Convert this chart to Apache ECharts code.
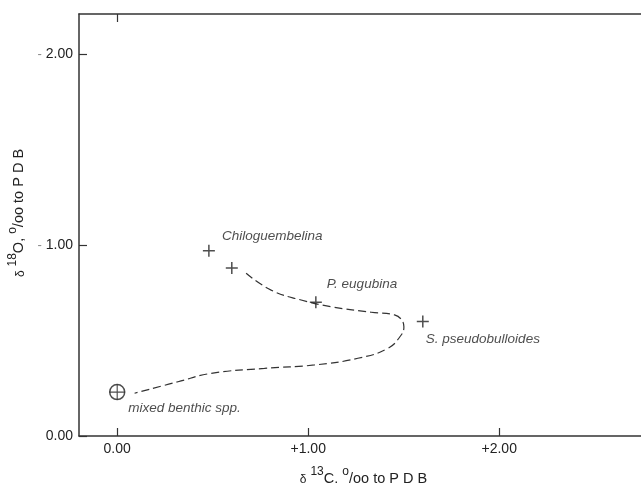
<!DOCTYPE html>
<html>
<head>
<meta charset="utf-8">
<script src="https://cdn.jsdelivr.net/npm/echarts@6/dist/echarts.min.js"></script>
<style>
html,body{margin:0;padding:0;background:#fff;}
#chart{width:641px;height:483px;}
</style>
</head>
<body>
<div id="chart"></div>
<script>
// Planktonic species (δ13C, δ18O)
const speciesNames = ['Chiloguembelina', '', 'P. eugubina', 'S. pseudobulloides'];
const speciesC = [0.48, 0.60, 1.04, 1.60];
const speciesO = [-0.97, -0.88, -0.70, -0.60];
// Benthic point
const benthicNames = ['mixed benthic spp.'];
const benthicC = [0.00];
const benthicO = [-0.23];
// Dashed trend curve
const trendC = [0.675, 0.806, 0.963, 1.12, 1.33, 1.452, 1.501, 1.487, 1.417, 1.26, 1.033, 0.771, 0.492, 0.318, 0.091];
const trendO = [-0.852, -0.764, -0.712, -0.677, -0.648, -0.634, -0.572, -0.529, -0.459, -0.407, -0.372, -0.354, -0.328, -0.284, -0.224];
// Ticks
const xTicks = [0, 1, 2];
const yTicks = [-2, -1, 0];

// label offsets (styling, px from point)
const speciesLabelOffsets = [[13, -15], [0, 0], [11, -18], [3, 18]];
const benthicLabelOffsets = [[11, 16]];

const ink = '#222';
const plusPath = 'path://M7,0 H9 V7 H16 V9 H9 V16 H7 V9 H0 V7 H7 Z';
const FF = 'Liberation Sans, Arial, sans-serif';
const labelFont = {fontFamily: FF, fontStyle: 'italic', fontSize: 13.5, color: ink};

const chart = echarts.init(document.getElementById('chart'), null, {renderer: 'canvas'});

const speciesData = speciesC.map((c, i) => ({
  value: [c, speciesO[i]],
  name: speciesNames[i],
  label: {offset: speciesLabelOffsets[i]}
}));
const benthicData = benthicC.map((c, i) => ({
  value: [c, benthicO[i]],
  name: benthicNames[i],
  label: {offset: benthicLabelOffsets[i]}
}));
const trendData = trendC.map((c, i) => [c, trendO[i]]);

const axisFont = {fontFamily: FF, fontSize: 14, color: ink};
const nameRich = {
  d: {fontSize: 12, color: ink, fontFamily: FF, verticalAlign: 'bottom', lineHeight: 20},
  s: {fontSize: 12, color: ink, fontFamily: FF, verticalAlign: 'top', lineHeight: 20},
  n: {fontSize: 14.5, color: ink, fontFamily: FF, verticalAlign: 'bottom', lineHeight: 20}
};

const option = {
  animation: false,
  backgroundColor: '#fff',
  grid: {left: 79, top: 14, bottom: 47, right: -11, containLabel: false, outerBoundsMode: 'none'},
  xAxis: [{
    type: 'value', min: -0.2, max: 2.8, position: 'bottom',
    splitLine: {show: false},
    axisLine: {show: true, onZero: false, lineStyle: {color: '#333', width: 1.5}},
    axisTick: {show: true, inside: true, length: 8, customValues: xTicks, lineStyle: {color: '#333', width: 1.2}},
    axisLabel: {
      customValues: xTicks, margin: 6,
      formatter: v => (v > 0 ? '+' : '') + v.toFixed(2),
      ...axisFont
    },
    name: '{d|δ} {s|13}{n|C, }{s|o}{n|/oo to P D B}',
    nameLocation: 'middle', nameGap: 30,
    nameTextStyle: {...axisFont, rich: nameRich, padding: [0, 4, 0, 0]}
  }, {
    type: 'value', min: -0.2, max: 2.8, position: 'top',
    splitLine: {show: false},
    axisLine: {show: true, onZero: false, lineStyle: {color: '#333', width: 1.5}},
    axisTick: {show: true, inside: true, length: 8, customValues: [0], lineStyle: {color: '#333', width: 1.2}},
    axisLabel: {show: false}
  }],
  yAxis: [{
    type: 'value', min: -2.21, max: 0, inverse: true, position: 'left',
    splitLine: {show: false},
    axisLine: {show: true, onZero: false, lineStyle: {color: '#333', width: 1.5}},
    axisTick: {show: true, inside: true, length: 8, customValues: yTicks, lineStyle: {color: '#333', width: 1.2}},
    axisLabel: {
      customValues: yTicks, margin: 6,
      formatter: v => v < 0 ? '{m|-} ' + Math.abs(v).toFixed(2) : v.toFixed(2),
      ...axisFont,
      rich: {m: {fontSize: 13, color: '#888', fontFamily: FF}}
    },
    name: '{d|δ} {s|18}{n|O, }{s|o}{n|/oo to P D B}',
    nameLocation: 'middle', nameGap: 47,
    nameTextStyle: {...axisFont, rich: nameRich, padding: [0, 0, 0, 24]}
  }],
  series: [{
    type: 'line',
    data: trendData,
    smooth: 0.45,
    symbol: 'none',
    lineStyle: {color: '#333', width: 1.2, type: [8, 4]},
    z: 1
  }, {
    type: 'scatter',
    data: speciesData,
    symbol: plusPath,
    symbolSize: 12,
    itemStyle: {color: '#222'},
    label: {
      show: true, position: 'inside', align: 'left', verticalAlign: 'middle',
      formatter: p => p.name,
      ...labelFont
    },
    z: 3
  }, {
    type: 'scatter',
    data: benthicData.map(d => ({value: d.value})),
    symbol: 'circle',
    symbolSize: 15,
    itemStyle: {color: '#fff', borderColor: '#222', borderWidth: 1.5},
    z: 3
  }, {
    type: 'scatter',
    data: benthicData,
    symbol: 'path://M7.4,0 H8.6 V7.4 H16 V8.6 H8.6 V16 H7.4 V8.6 H0 V7.4 H7.4 Z',
    symbolSize: 15,
    itemStyle: {color: '#222'},
    label: {
      show: true, position: 'inside', align: 'left', verticalAlign: 'middle',
      formatter: p => p.name,
      ...labelFont
    },
    z: 4
  }]
};
chart.setOption(option);
</script>
</body>
</html>
